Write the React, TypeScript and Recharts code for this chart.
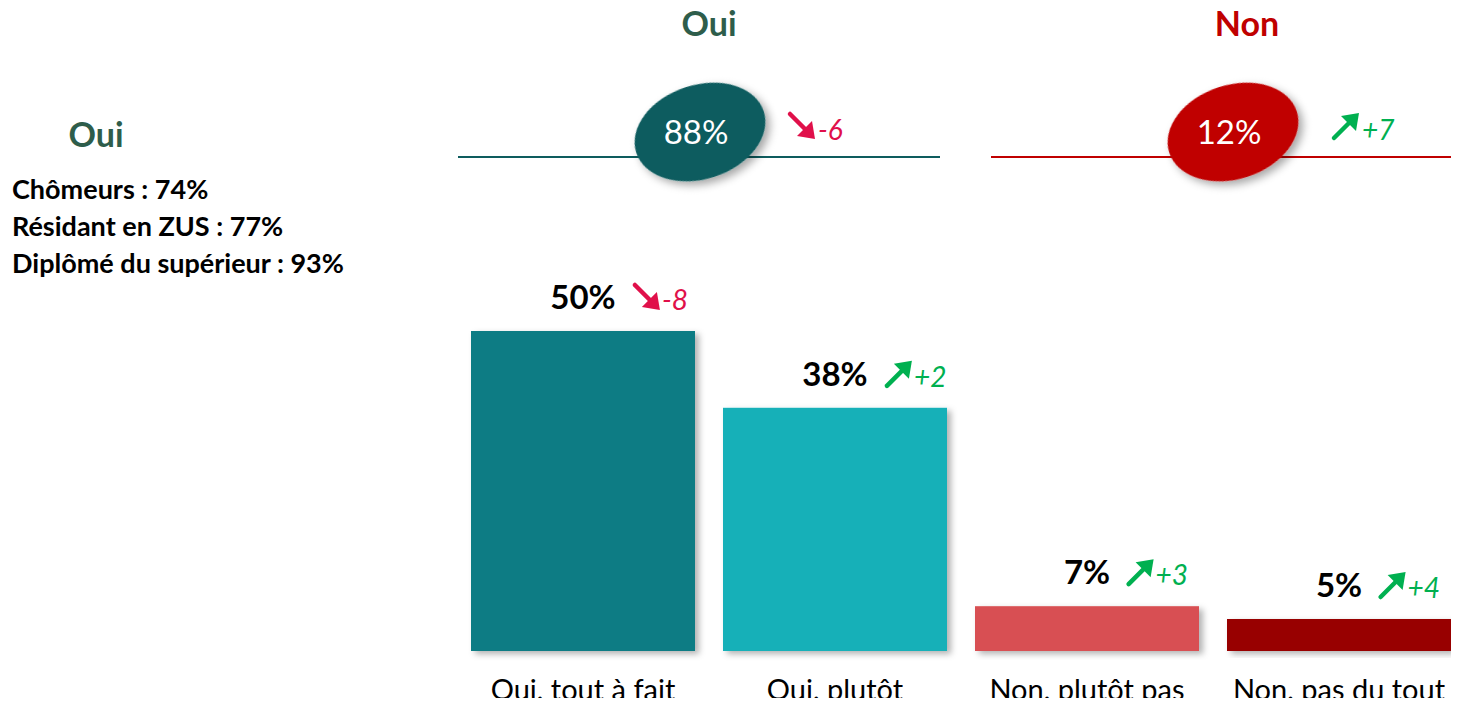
import { BarChart, Bar, XAxis, YAxis, Cell, LabelList } from "recharts";

const categories = ["Oui, tout à fait", "Oui, plutôt", "Non, plutôt pas", "Non, pas du tout"];
const shares = [50, 38, 7, 5];
const shareDeltas = [-8, 2, 3, 4];
const barColors = ["#117B84", "#14B0B8", "#D84F52", "#980000"];

const groupLabels = ["Oui", "Non"];
const groupTotals = [88, 12];
const groupDeltas = [-6, 7];

const sideTitle = "Oui";
const sideNotes = ["Chômeurs : 74%", "Résidant en ZUS : 77%", "Diplômé du supérieur : 93%"];

const FONT = "Lato, 'Open Sans', sans-serif";
const UP = "#00B050";
const DOWN = "#E0104A";

const data = categories.map((name, i) => ({
  name,
  value: shares[i],
  delta: shareDeltas[i],
}));

// trend arrow in a 25x25 box, top-left at (x, y)
function Arrow({ x, y, delta }: { x: number; y: number; delta: number }) {
  const color = delta < 0 ? DOWN : UP;
  if (delta < 0) {
    return (
      <g>
        <line x1={x + 1} y1={y + 1} x2={x + 19} y2={y + 19} stroke={color} strokeWidth={4.5} strokeLinecap="round" />
        <polygon points={`${x + 26},${y + 26} ${x + 8},${y + 23} ${x + 23},${y + 8}`} fill={color} />
      </g>
    );
  }
  return (
    <g>
      <line x1={x + 1} y1={y + 25} x2={x + 19} y2={y + 7} stroke={color} strokeWidth={4.5} strokeLinecap="round" />
      <polygon points={`${x + 26},${y} ${x + 23},${y + 18} ${x + 8},${y + 3}`} fill={color} />
    </g>
  );
}

function fmtDelta(d: number) {
  return d > 0 ? `+${d}` : `${d}`;
}

function BarLabel(props: any) {
  const { x, y, width, index } = props;
  const cx = Number(x) + Number(width) / 2;
  const base = Number(y) - 22;
  const txt = `${shares[index]}%`;
  const ax = cx + txt.length * 10.3 + 20;
  const d = shareDeltas[index];
  return (
    <g>
      <text x={cx} y={base} textAnchor="middle" fontFamily={FONT} fontWeight={700} fontSize={33} fill="#000">
        {txt}
      </text>
      <Arrow x={ax} y={base - 25} delta={d} />
      <text x={ax + 28} y={base + 1} fontFamily={FONT} fontStyle="italic" fontSize={28} fill={d < 0 ? DOWN : UP}>
        {fmtDelta(d)}
      </text>
    </g>
  );
}

function ShadowBar(props: any) {
  const { x, y, width, height, fill } = props;
  return <rect x={x} y={y} width={width} height={height} fill={fill} filter="url(#barShadow)" />;
}

function CatTick(props: any) {
  const { x, payload } = props;
  return (
    <text x={x} y={700} textAnchor="middle" fontFamily={FONT} fontSize={29} fill="#000">
      {payload.value}
    </text>
  );
}

function Header() {
  const groups = [
    { title: 709, cx: 700, lineX1: 458, lineX2: 940, color: "#0E5C5E", titleColor: "#2E5D4B", ax: 789 },
    { title: 1247, cx: 1233, lineX1: 991, lineX2: 1459, color: "#C00000", titleColor: "#C00000", ax: 1333 },
  ];
  return (
    <svg width={1459} height={300} style={{ position: "absolute", left: 0, top: 0, pointerEvents: "none" }}>
      <defs>
        <filter id="ovalShadow" x="-30%" y="-30%" width="160%" height="170%">
          <feDropShadow dx={3} dy={5} stdDeviation={4} floodColor="#000" floodOpacity={0.35} />
        </filter>
      </defs>
      {groups.map((g, i) => (
        <g key={i}>
          <text x={g.title} y={36} textAnchor="middle" fontFamily={FONT} fontWeight={700} fontSize={34} fill={g.titleColor}>
            {groupLabels[i]}
          </text>
          <line x1={g.lineX1} x2={g.lineX2} y1={157} y2={157} stroke={g.color} strokeWidth={2} />
          <ellipse
            cx={g.cx}
            cy={132}
            rx={67}
            ry={47}
            fill={g.color}
            filter="url(#ovalShadow)"
            transform={`rotate(-18 ${g.cx} 132)`}
          />
          <text x={g.cx - 4} y={144} textAnchor="middle" fontFamily={FONT} fontSize={33} fill="#fff">
            {groupTotals[i]}%
          </text>
          <Arrow x={g.ax} y={113} delta={groupDeltas[i]} />
          <text x={g.ax + 29} y={140} fontFamily={FONT} fontStyle="italic" fontSize={28} fill={groupDeltas[i] < 0 ? DOWN : UP}>
            {fmtDelta(groupDeltas[i])}
          </text>
        </g>
      ))}
      <text x={96} y={147} textAnchor="middle" fontFamily={FONT} fontWeight={700} fontSize={34} fill="#2E5D4B">
        {sideTitle}
      </text>
      {sideNotes.map((t, i) => (
        <text key={t} x={12} y={199 + i * 37} fontFamily={FONT} fontWeight={700} fontSize={27} fill="#000">
          {t}
        </text>
      ))}
    </svg>
  );
}

export default function App() {
  return (
    <div style={{ position: "relative", margin: -8, width: 1459, height: 706, overflow: "hidden", background: "#fff" }}>
      <div style={{ position: "absolute", left: 0, top: 0 }}>
        <BarChart width={1465} height={706} data={data} margin={{ top: 11, right: 0, left: 457, bottom: 25 }}>
          <defs>
            <filter id="barShadow" x="-10%" y="-10%" width="130%" height="130%">
              <feDropShadow dx={4} dy={3} stdDeviation={3} floodColor="#000" floodOpacity={0.3} />
            </filter>
          </defs>
          <YAxis hide domain={[0, 100]} />
          <XAxis dataKey="name" height={30} axisLine={false} tickLine={false} tick={<CatTick />} interval={0} />
          <Bar dataKey="value" barSize={224} isAnimationActive={false} shape={<ShadowBar />}>
            {data.map((d, i) => (
              <Cell key={d.name} fill={barColors[i]} />
            ))}
            <LabelList dataKey="value" content={<BarLabel />} />
          </Bar>
        </BarChart>
      </div>
      <Header />
    </div>
  );
}
